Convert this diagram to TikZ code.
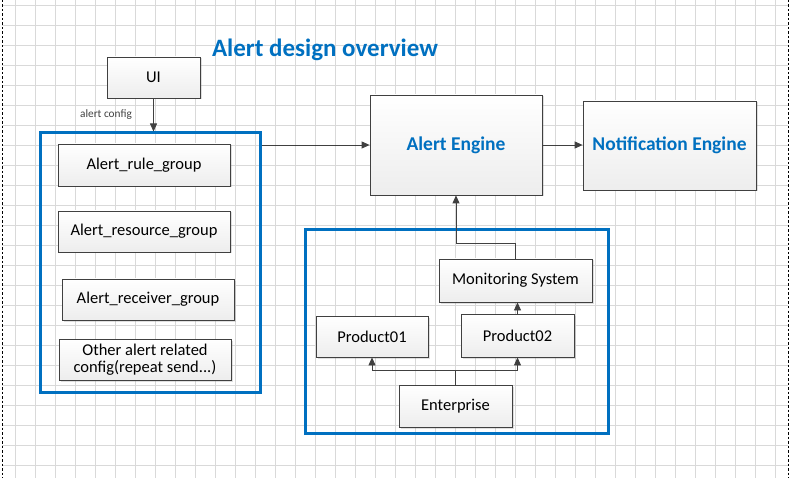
\documentclass[tikz,border=0pt]{standalone}
\usepackage{fontspec}
\setmainfont{Carlito}
\usetikzlibrary{arrows.meta,positioning,shadows}
\definecolor{msblue}{HTML}{0070C0}
\definecolor{linegray}{HTML}{404040}
\definecolor{gridgray}{HTML}{D9D9D9}
\begin{document}
\begin{tikzpicture}[
    x=1pt, y=-1pt,
    box/.style={draw=linegray, line width=0.8pt, top color=white, bottom color=gray!14, align=center, inner sep=0pt, font=\fontsize{16.5}{18}\selectfont, drop shadow={shadow xshift=1.5pt, shadow yshift=-1.5pt, opacity=0.25}},
    engine/.style={box, font=\fontsize{19.5}{22}\selectfont\bfseries, text=msblue},
    frame/.style={draw=msblue, line width=3pt, inner sep=0pt},
    arrow/.style={-{Triangle[length=8pt, width=7pt]}, draw=linegray, line width=0.8pt},
    gridline/.style={draw=gridgray, line width=0.7pt},
    lbl/.style={font=\fontsize{11.3}{13}\selectfont, text=linegray, inner sep=0pt}
]
\useasboundingbox (0,0) rectangle (792,478);
\foreach \gx in {15,35,...,775} \draw[gridline] (\gx,0) -- (\gx,478);
\foreach \gy in {5,25,...,465} \draw[gridline] (2,\gy) -- (788,\gy);
\draw[black, line width=0.8pt, dash pattern=on 2.5pt off 2pt] (2,0) -- (2,478);
\draw[black, line width=0.8pt, dash pattern=on 2.5pt off 2pt] (788,0) -- (788,478);

\node[font=\fontsize{25}{28}\selectfont\bfseries, text=msblue] (title) at (325,50) {Alert design overview};

\node[frame, minimum width=220, minimum height=259] (cfgframe) at (150,262.5) {};
\node[frame, minimum width=303, minimum height=203] (monframe) at (456.5,331.5) {};

\node[box, minimum width=93, minimum height=41] (ui) at (153.5,77.5) {UI};
\node[box, minimum width=172, minimum height=42] (rulegrp) at (144,165) {Alert\_rule\_group};
\node[box, minimum width=172, minimum height=41] (resgrp) at (144,231.5) {Alert\_resource\_group};
\node[box, minimum width=172, minimum height=41] (recvgrp) at (148,299.5) {Alert\_receiver\_group};
\node[box, minimum width=172, minimum height=41, font=\fontsize{16.5}{17.5}\selectfont] (othercfg) at (145,359.5) {Other alert related\\config(repeat send...)};

\node[engine, minimum width=172, minimum height=100] (alertengine) at (456,145) {Alert Engine};
\node[engine, minimum width=173, minimum height=89] (notifyengine) at (669.5,145.5) {Notification Engine};

\node[box, minimum width=153, minimum height=43] (monitor) at (515.5,280.5) {Monitoring System};
\node[box, minimum width=112, minimum height=41] (prod1) at (372,336.5) {Product01};
\node[box, minimum width=113, minimum height=43] (prod2) at (517.5,335.5) {Product02};
\node[box, minimum width=113, minimum height=42] (enterprise) at (455.5,406) {Enterprise};

\node[lbl] (cfglabel) at (106,115) {alert config};

\draw[arrow] (ui.south) -- (ui.south |- cfgframe.north);
\draw[arrow] (cfgframe.east |- alertengine.west) -- (alertengine.west);
\draw[arrow] (alertengine.east) -- (notifyengine.west |- alertengine.east);
\draw[arrow] (monitor.north) -- ++(0,-15) -| (alertengine.south);
\draw[arrow] (prod2.north) -- (prod2.north |- monitor.south);
\draw[linegray, line width=0.8pt] (enterprise.north) -- ++(0,-14) coordinate (split);
\draw[arrow] (split) -| (prod1.south);
\draw[arrow] (split) -| (prod2.south);
\end{tikzpicture}
\end{document}
